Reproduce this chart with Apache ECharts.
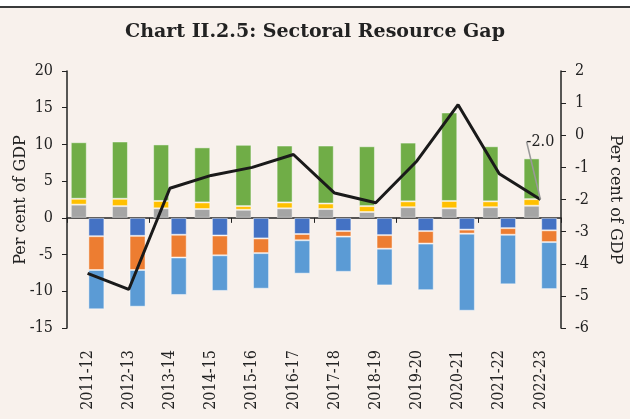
<!DOCTYPE html>
<html>
<head>
<meta charset="utf-8">
<script src="https://cdn.jsdelivr.net/npm/echarts@6/dist/echarts.min.js"></script>
<style>
  html, body { margin: 0; padding: 0; background: #fff; }
  #chart { width: 630px; height: 419px; }
</style>
</head>
<body>
<div id="chart"></div>
<script>
// 年度
var categories = ['2011-12', '2012-13', '2013-14', '2014-15', '2015-16', '2016-17',
  '2017-18', '2018-19', '2019-20', '2020-21', '2021-22', '2022-23'];

// 正向堆叠（左轴）
var grayVals = [1.8, 1.6, 1.3, 1.2, 1.1, 1.3, 1.2, 0.8, 1.45, 1.3, 1.45, 1.65];
var yellowVals = [0.8, 1.0, 1.0, 0.9, 0.5, 0.8, 0.75, 0.8, 0.8, 1.0, 0.8, 0.9];
var greenVals = [7.7, 7.8, 7.7, 7.5, 8.35, 7.75, 7.9, 8.15, 8.0, 12.05, 7.5, 5.55];

// 负向堆叠（左轴）
var darkBlueVals = [-2.5, -2.45, -2.3, -2.4, -2.8, -2.2, -1.8, -2.35, -1.8, -1.6, -1.4, -1.7];
var orangeVals = [-4.6, -4.65, -3.1, -2.7, -2.0, -0.85, -0.75, -1.85, -1.7, -0.55, -0.9, -1.6];
var lightBlueVals = [-5.35, -5.0, -5.1, -4.85, -4.85, -4.55, -4.8, -5.0, -6.35, -10.5, -6.75, -6.4];

// 折线（右轴）
var gapVals = [-4.3, -4.8, -1.65, -1.25, -1.0, -0.6, -1.8, -2.1, -0.8, 0.95, -1.2, -2.0];

var serif = '"DejaVu Serif", "Liberation Serif", serif';
var serifNarrow = '"DejaVu Serif Condensed", "DejaVu Serif", serif';
var textColor = '#222';

function barSeries(name, data, stack, color) {
  return {
    name: name,
    type: 'bar',
    stack: stack,
    barWidth: 16,
    data: data,
    itemStyle: { color: color, borderColor: 'rgba(255,255,255,0.45)', borderWidth: 1 },
    emphasis: { disabled: true }
  };
}

var chart = echarts.init(document.getElementById('chart'), null, { renderer: 'canvas' });

chart.setOption({
  backgroundColor: '#f8f1ec',
  animation: false,
  title: {
    text: 'Chart II.2.5: Sectoral Resource Gap',
    left: 'center',
    top: 18,
    textStyle: { fontFamily: serif, fontWeight: 'bold', fontSize: 19, color: '#222' }
  },
  graphic: [
    { type: 'rect', shape: { x: 0, y: 0, width: 630, height: 6 }, style: { fill: '#fff' } },
    { type: 'line', shape: { x1: 0, y1: 7, x2: 630, y2: 7 }, style: { stroke: '#3a3a3a', lineWidth: 2 } },
    // 左轴标题
    {
      type: 'text',
      x: 21,
      y: 200,
      rotation: Math.PI / 2,
      style: {
        text: 'Per cent of GDP',
        align: 'center',
        verticalAlign: 'middle',
        font: '16px ' + serif,
        fill: textColor
      }
    }
  ],
  grid: { left: 67, right: 69, top: 71, bottom: 91, containLabel: false, outerBoundsMode: 'none' },
  xAxis: [
    {
      type: 'category',
      data: categories,
      position: 'bottom',
      axisLine: { show: false, onZero: false },
      axisTick: { show: false },
      axisLabel: {
        rotate: 90,
        interval: 0,
        margin: 22,
        fontFamily: serifNarrow,
        fontSize: 16,
        color: textColor
      }
    },
    {
      type: 'category',
      data: categories,
      position: 'bottom',
      axisLine: { show: true, onZero: true, onZeroAxisIndex: 0, lineStyle: { color: '#222', width: 1.5 } },
      axisTick: { show: true, length: 5, lineStyle: { color: '#222' } },
      axisLabel: { show: false }
    }
  ],
  yAxis: [
    {
      type: 'value',
      min: -15,
      max: 20,
      interval: 5,
      axisLine: { show: true, lineStyle: { color: '#222', width: 1.5 } },
      axisTick: { show: true, length: 5, lineStyle: { color: '#222' } },
      axisLabel: { fontFamily: serifNarrow, fontSize: 16, color: textColor, margin: 14 },
      splitLine: { show: false }
    },
    {
      type: 'value',
      min: -6,
      max: 2,
      interval: 1,
      name: 'Per cent of GDP',
      nameLocation: 'middle',
      nameGap: 46,
      nameMoveOverlap: false,
      nameRotate: -90,
      nameTextStyle: { fontFamily: serif, fontSize: 16, color: textColor },
      axisLine: { show: true, lineStyle: { color: '#222', width: 1.5 } },
      axisTick: { show: true, length: 5, lineStyle: { color: '#222' } },
      axisLabel: { fontFamily: serifNarrow, fontSize: 16, color: textColor, margin: 14 },
      splitLine: { show: false }
    }
  ],
  series: [
    barSeries('Series A', grayVals, 'pos', '#a5a5a5'),
    barSeries('Series B', yellowVals, 'pos', '#ffc000'),
    barSeries('Series C', greenVals, 'pos', '#70ad47'),
    barSeries('Series D', darkBlueVals, 'neg', '#4472c4'),
    barSeries('Series E', orangeVals, 'neg', '#ed7d31'),
    barSeries('Series F', lightBlueVals, 'neg', '#5b9bd5'),
    {
      name: 'Resource gap',
      type: 'line',
      yAxisIndex: 1,
      data: gapVals.map(function (v, i) {
        if (i === gapVals.length - 1) {
          return {
            value: v,
            label: {
              show: true,
              position: 'top',
              formatter: function (p) { return p.value.toFixed(1); },
              fontFamily: serifNarrow,
              fontSize: 16,
              color: textColor
            }
          };
        }
        return v;
      }),
      labelLayout: function () {
        return { dy: -45 };
      },
      labelLine: { show: true, lineStyle: { color: '#999', width: 1.5 } },
      symbol: 'circle',
      symbolSize: 0,
      showSymbol: true,
      lineStyle: { color: '#1a1a1a', width: 3 },
      z: 5,
      emphasis: { disabled: true }
    }
  ]
});
</script>
</body>
</html>
